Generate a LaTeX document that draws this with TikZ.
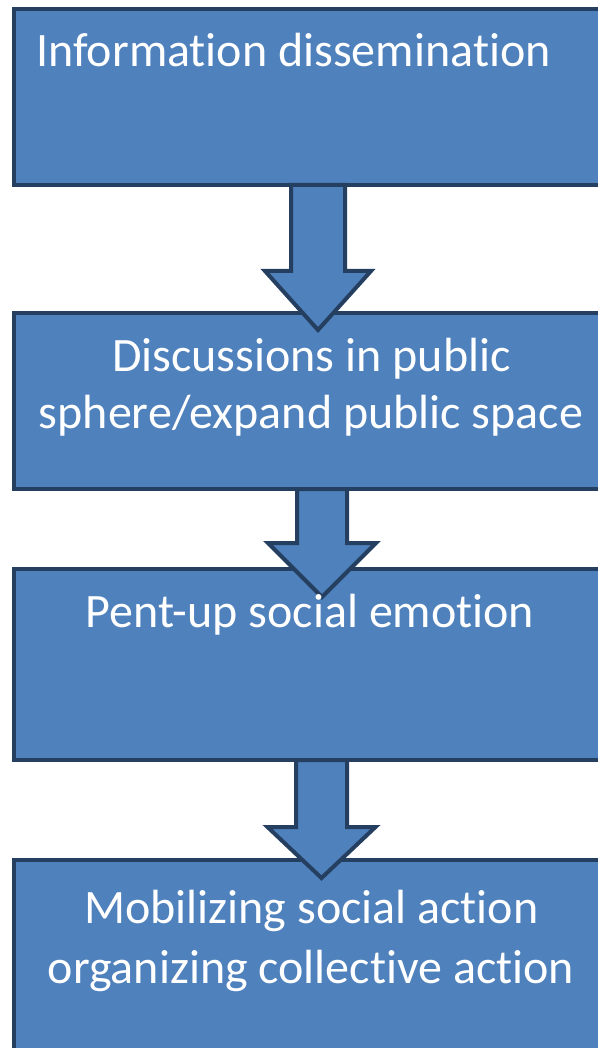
\documentclass[tikz,border=0pt]{standalone}
\usepackage{fontspec}
\setmainfont[RawFeature={-liga;-clig;-calt;-dlig}]{Carlito}
\definecolor{boxfill}{HTML}{4F81BD}
\definecolor{boxline}{HTML}{253F60}
\tikzset{
  flowbox/.style={draw=boxline, fill=boxfill, line width=3pt, rectangle, inner sep=0pt},
  flowarrowshape/.style={draw=boxline, fill=boxfill, line width=3pt, line join=miter},
  flowtext/.style={text=white, inner sep=0pt, font=\fontsize{36pt}{44pt}\selectfont},
}
% block arrow: centre x, top y, shaft half width, head half width, head base y, tip y
\newcommand\flowarrow[7]{%
  \draw[flowarrowshape] ({#2-#4},#3) -- ({#2-#4},#6) -- ({#2-#5},#6)
    -- (#2,#7) coordinate (#1) -- ({#2+#5},#6) -- ({#2+#4},#6) -- ({#2+#4},#3) -- cycle;}
\begin{document}
\begin{tikzpicture}[x=0.75pt, y=-0.75pt]
  \useasboundingbox (0,0) rectangle (598,1048);
  \begin{scope}
    \clip (0,0) rectangle (598,1048);
    % the four stages
    \node[flowbox, minimum width=447.75pt, minimum height=132pt] (b1) at (312,97) {};
    \node[flowbox, minimum width=447.75pt, minimum height=132pt] (b2) at (312,401) {};
    \node[flowbox, minimum width=447.75pt, minimum height=143.25pt] (b3) at (312,664.5) {};
    \node[flowbox, minimum width=447.75pt, minimum height=143.25pt] (b4) at (312,1052.5) [anchor=south] {};
    % block arrows between the stages
    \flowarrow{a1}{318}{185}{27}{53}{271}{330}
    \flowarrow{a2}{322}{489}{25}{54}{543}{597}
    \flowarrow{a3}{321.5}{760}{25.5}{54}{827}{878}
  \end{scope}
  % labels
  \node[flowtext, anchor=base west] (t1) at (36,67) {Information dissemination};
  \node[flowtext, anchor=base] (t2a) at (311.5,371) {Discussions in public};
  \node[flowtext, anchor=base] (t2b) at (311,428) {sphere/expand public space};
  \node[flowtext, anchor=base] (t3) at (310,627) {Pent-up social emotion};
  \node[flowtext, anchor=base] (t4a) at (311.5,923) {Mobilizing social action};
  \node[flowtext, anchor=base] (t4b) at (311,983) {organizing collective action};
\end{tikzpicture}
\end{document}
